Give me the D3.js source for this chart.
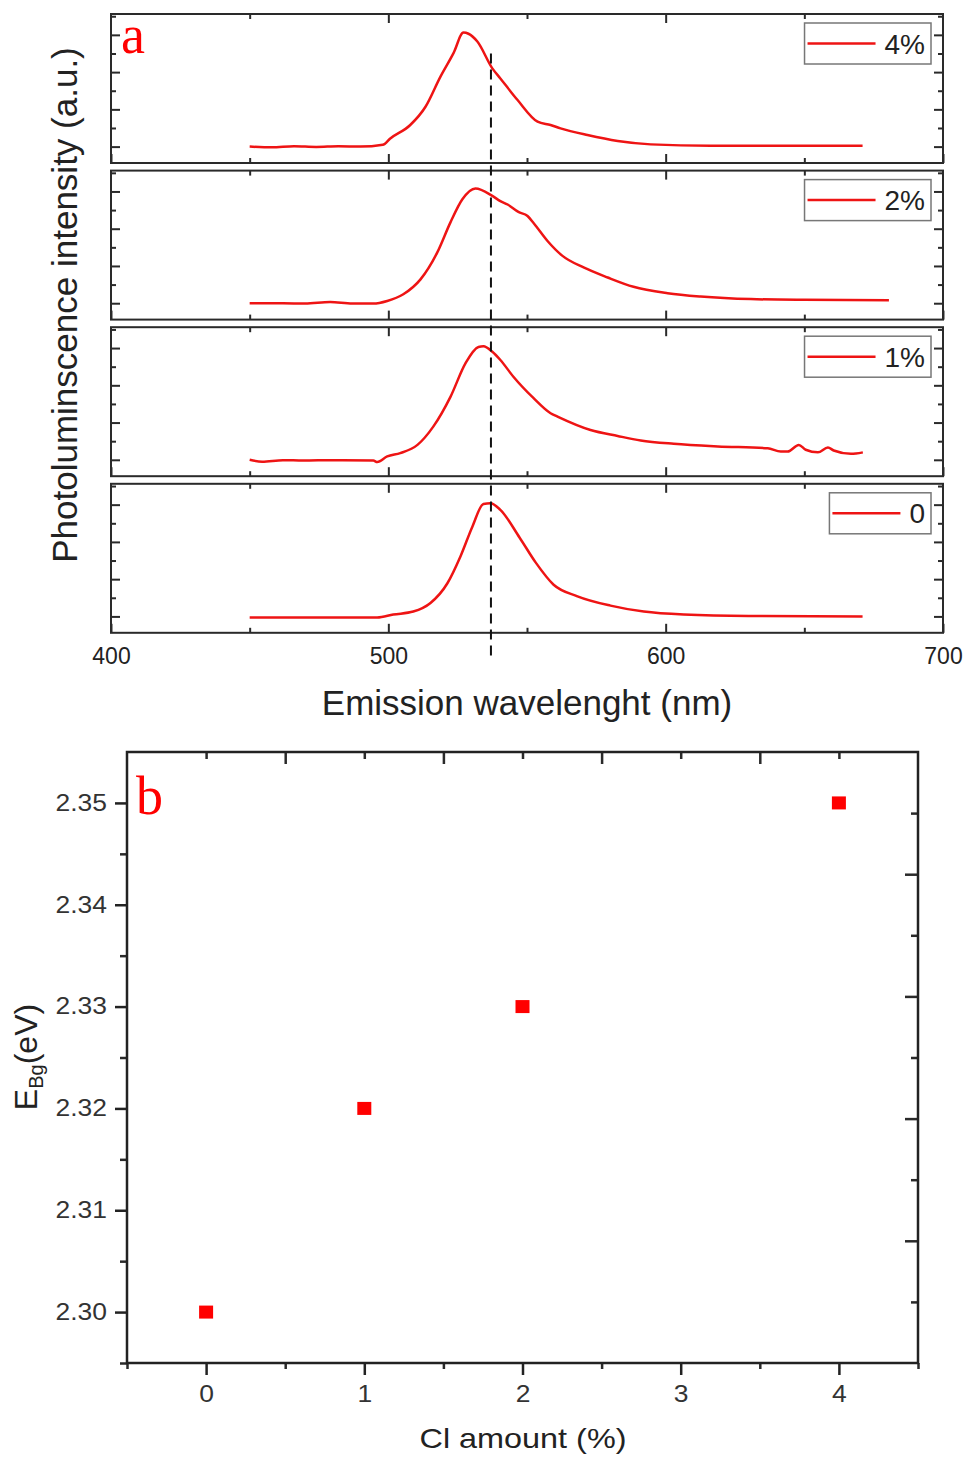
<!DOCTYPE html>
<html>
<head>
<meta charset="utf-8">
<script src="https://cdn.jsdelivr.net/npm/d3@7"></script>
<style>
body { margin: 0; background: #fff; }
svg { display: block; font-family: "Liberation Sans", Arial, sans-serif; }
</style>
</head>
<body>
<svg width="969" height="1458"></svg>
<script>
// panel a: PL spectra (intensity in tick units)
var labels = ["4%", "2%", "1%", "0"];

var wl4 = [450, 458, 466, 474, 482, 490, 498, 500.7, 507.9, 513.4, 518.8, 523.5, 527.1, 528.9, 532.1, 537.5, 540.4, 546.6, 553.8, 558.5, 562.1, 571.8, 582.7, 594.6, 616.2, 671];
var pl4 = [0.0, -0.02, 0.01, -0.01, 0.01, 0.0, 0.05, 0.22, 0.58, 1.07, 1.88, 2.51, 3.06, 3.03, 2.82, 2.10, 1.83, 1.25, 0.67, 0.58, 0.49, 0.31, 0.15, 0.06, 0.02, 0.02];

var wl2 = [450, 462, 470, 479, 487, 494.6, 499.6, 505.4, 511.6, 517.7, 522.4, 526.7, 531.4, 537.5, 540.4, 543, 546.9, 550.2, 552.5, 557.4, 562.8, 570.4, 579.1, 588.4, 600.7, 612.6, 630.7, 649.8, 680.5];
var pl2 = [0, 0.0, -0.01, 0.03, -0.01, -0.01, 0.06, 0.24, 0.64, 1.37, 2.17, 2.79, 3.08, 2.88, 2.74, 2.65, 2.45, 2.34, 2.14, 1.67, 1.27, 0.96, 0.69, 0.44, 0.27, 0.18, 0.11, 0.09, 0.08];

var wl1 = [450, 454.5, 462, 469.3, 480, 494.6, 496, 499.6, 504.3, 510.5, 516.2, 522.4, 527.8, 532.5, 534.3, 537.5, 540.4, 545.1, 552.3, 558.5, 561, 572.9, 582.7, 591, 602.9, 618.8, 636.8, 641.5, 644, 648, 650.5, 654.9, 658.5, 660.6, 666.8, 671.1];
var pl1 = [0, -0.05, -0.01, -0.02, -0.01, -0.02, -0.06, 0.09, 0.18, 0.40, 0.89, 1.69, 2.59, 3.03, 3.05, 2.90, 2.68, 2.23, 1.66, 1.25, 1.16, 0.80, 0.64, 0.52, 0.43, 0.36, 0.31, 0.22, 0.22, 0.40, 0.27, 0.20, 0.33, 0.25, 0.16, 0.20];

var wl0 = [450, 470, 496, 501.8, 509, 515.2, 521.3, 526, 530.3, 534.3, 536.8, 540.4, 547.3, 553.1, 559.6, 568.2, 580.1, 592.1, 606.5, 630, 671];
var pl0 = [-0.03, -0.03, -0.03, 0.05, 0.13, 0.36, 0.89, 1.61, 2.41, 3.02, 3.04, 2.86, 2.12, 1.45, 0.85, 0.54, 0.29, 0.13, 0.05, 0.01, 0.0];

var xTicksA = [400, 500, 600, 700];
var peakWl = 537;

// panel b: band gap vs Cl amount
var clAmount = [0, 1, 2, 4];
var bandGap = [2.30, 2.32, 2.33, 2.35];
var xTicksB = [0, 1, 2, 3, 4];
var yTicksB = [2.30, 2.31, 2.32, 2.33, 2.34, 2.35];

var svg = d3.select("svg");
var red = "#ee1414";

function addTicks(g, axis, vals, size, width) {
    g.call(axis.tickValues(vals).tickSize(size).tickFormat(""));
    g.select(".domain").remove();
    g.selectAll("line").attr("stroke", "#2a2a2a").attr("stroke-width", width || 2);
}

// ---------- panel a ----------
var aLeft = 111, aRight = 943, aTop = 14, aH = 149, aStep = 156.6;
var x = d3.scaleLinear().domain([400, 700]).range([aLeft, aRight]);

var spectra = [
    {name: labels[0], wl: wl4, pl: pl4},
    {name: labels[1], wl: wl2, pl: pl2},
    {name: labels[2], wl: wl1, pl: pl1},
    {name: labels[3], wl: wl0, pl: pl0}
];

var yScales = [];

spectra.forEach(function(s, i) {
    var top = aTop + i * aStep, bottom = top + aH;
    var y = d3.scaleLinear().domain([-0.44, 3.56]).range([bottom, top]);
    yScales.push(y);
    var g = svg.append("g");

    addTicks(g.append("g").attr("transform", "translate(" + aLeft + ",0)"), d3.axisLeft(y), [0, 1, 2, 3], -9);
    addTicks(g.append("g").attr("transform", "translate(" + aLeft + ",0)"), d3.axisLeft(y), [0.5, 1.5, 2.5, 3.5], -5);
    addTicks(g.append("g").attr("transform", "translate(" + aRight + ",0)"), d3.axisRight(y), [0, 1, 2, 3], -9);
    addTicks(g.append("g").attr("transform", "translate(" + aRight + ",0)"), d3.axisRight(y), [0.5, 1.5, 2.5, 3.5], -5);
    addTicks(g.append("g").attr("transform", "translate(0," + top + ")"), d3.axisTop(x), [500, 600], -9);
    addTicks(g.append("g").attr("transform", "translate(0," + top + ")"), d3.axisTop(x), [450, 550, 650], -5);
    addTicks(g.append("g").attr("transform", "translate(0," + bottom + ")"), d3.axisBottom(x), [450, 550, 650], -5);

    var bx = g.append("g").attr("transform", "translate(0," + bottom + ")")
        .call(d3.axisBottom(x).tickValues(xTicksA).tickSize(-9).tickPadding(15)
            .tickFormat(i === 3 ? d3.format("d") : ""));
    bx.select(".domain").remove();
    bx.selectAll("line").attr("stroke", "#2a2a2a").attr("stroke-width", 2);
    bx.selectAll("text").attr("font-size", 23).attr("fill", "#222")
        .attr("font-family", "Liberation Sans, Arial, sans-serif");

    g.append("rect")
        .attr("x", aLeft).attr("y", top)
        .attr("width", aRight - aLeft).attr("height", aH)
        .attr("fill", "none").attr("stroke", "#2a2a2a").attr("stroke-width", 2);

    var line = d3.line()
        .x(function(d) { return x(d[0]); })
        .y(function(d) { return y(d[1]); })
        .curve(d3.curveMonotoneX);

    g.append("path")
        .datum(d3.zip(s.wl, s.pl))
        .attr("d", line)
        .attr("fill", "none")
        .attr("stroke", red)
        .attr("stroke-width", 2.5)
        .attr("stroke-linejoin", "round");

    // legend box, right aligned in the panel
    var leg = g.append("g");
    var txt = leg.append("text").text(s.name)
        .attr("font-size", 28).attr("fill", "#222");
    var tw = txt.node().getComputedTextLength();
    var boxR = aRight - 12, boxW = tw + 6 + 9 + 68 + 3, boxT = top + 9, boxH = 41;
    leg.insert("rect", "text")
        .attr("x", boxR - boxW).attr("y", boxT)
        .attr("width", boxW).attr("height", boxH)
        .attr("fill", "#fff").attr("stroke", "#777").attr("stroke-width", 1.5);
    leg.append("line")
        .attr("x1", boxR - boxW + 3).attr("x2", boxR - boxW + 71)
        .attr("y1", boxT + boxH / 2).attr("y2", boxT + boxH / 2)
        .attr("stroke", red).attr("stroke-width", 2.5);
    txt.attr("x", boxR - 6 - tw).attr("y", boxT + boxH / 2 + 10);
});

// dashed guide at the undoped peak
svg.append("line")
    .attr("x1", x(peakWl)).attr("x2", x(peakWl))
    .attr("y1", yScales[0](2.5))
    .attr("y2", yScales[3].range()[0] + 27)
    .attr("stroke", "#111").attr("stroke-width", 2)
    .attr("stroke-dasharray", "10,6");

svg.append("text").text("a")
    .attr("x", 121).attr("y", 53)
    .attr("font-family", "Liberation Serif, Times New Roman, serif")
    .attr("font-size", 54).attr("fill", "#f00");

svg.append("text").text("Photoluminscence intensity (a.u.)")
    .attr("transform", "translate(77,305) rotate(-90)")
    .attr("text-anchor", "middle")
    .attr("font-size", 35).attr("fill", "#222");

svg.append("text").text("Emission wavelenght (nm)")
    .attr("x", 527).attr("y", 715)
    .attr("text-anchor", "middle")
    .attr("font-size", 35).attr("fill", "#222");

// ---------- panel b ----------
var bLeft = 127, bRight = 918, bTop = 752, bBottom = 1363;
var xb = d3.scaleLinear().domain([-0.5, 4.5]).range([bLeft, bRight]);
var yb = d3.scaleLinear().domain([2.295, 2.355]).range([bBottom, bTop]);
// the right axis of the original has its own, unlabeled spacing
var yr = d3.scaleLinear().domain([0, 5]).range([bBottom, bTop]);

var gb = svg.append("g");

function stretch(sel, k) {
    sel.each(function() {
        var t = d3.select(this);
        var tx = +t.attr("x") || 0, ty = +t.attr("y") || 0;
        t.attr("transform", "translate(" + tx + "," + ty + ") scale(" + k + ",1)")
            .attr("x", 0).attr("y", 0);
    });
}

var ly = gb.append("g").attr("transform", "translate(" + bLeft + ",0)")
    .call(d3.axisLeft(yb).tickValues(yTicksB).tickSize(12).tickPadding(8).tickFormat(d3.format(".2f")));
ly.select(".domain").remove();
ly.selectAll("line").attr("stroke", "#222").attr("stroke-width", 2.5);
ly.selectAll("text").attr("font-size", 23).attr("fill", "#333")
    .attr("font-family", "Liberation Sans, Arial, sans-serif");
stretch(ly.selectAll("text"), 1.15);
addTicks(gb.append("g").attr("transform", "translate(" + bLeft + ",0)"), d3.axisLeft(yb),
    [2.295, 2.305, 2.315, 2.325, 2.335, 2.345], 7, 2.5);

var lx = gb.append("g").attr("transform", "translate(0," + bBottom + ")")
    .call(d3.axisBottom(xb).tickValues(xTicksB).tickSize(12).tickPadding(11).tickFormat(d3.format("d")));
lx.select(".domain").remove();
lx.selectAll("line").attr("stroke", "#222").attr("stroke-width", 2.5);
lx.selectAll("text").attr("font-size", 23).attr("fill", "#333")
    .attr("font-family", "Liberation Sans, Arial, sans-serif");
stretch(lx.selectAll("text"), 1.15);
addTicks(gb.append("g").attr("transform", "translate(0," + bBottom + ")"), d3.axisBottom(xb),
    [-0.5, 0.5, 1.5, 2.5, 3.5, 4.5], 6, 2.5);

addTicks(gb.append("g").attr("transform", "translate(0," + bTop + ")"), d3.axisTop(xb),
    [0.5, 1.5, 2.5, 3.5], -12, 2.5);
addTicks(gb.append("g").attr("transform", "translate(0," + bTop + ")"), d3.axisTop(xb),
    [0, 1, 2, 3, 4], -7, 2.5);
addTicks(gb.append("g").attr("transform", "translate(" + bRight + ",0)"), d3.axisRight(yr),
    [1, 2, 3, 4], -13, 2.5);
addTicks(gb.append("g").attr("transform", "translate(" + bRight + ",0)"), d3.axisRight(yr),
    [0.5, 1.5, 2.5, 3.5, 4.5], -7, 2.5);

gb.append("rect")
    .attr("x", bLeft).attr("y", bTop)
    .attr("width", bRight - bLeft).attr("height", bBottom - bTop)
    .attr("fill", "none").attr("stroke", "#222").attr("stroke-width", 2.5);

gb.selectAll("rect.pt")
    .data(d3.zip(clAmount, bandGap))
    .enter()
    .append("rect")
    .attr("class", "pt")
    .attr("x", function(d) { return xb(d[0]) - 7; })
    .attr("y", function(d) { return yb(d[1]) - 6.5; })
    .attr("width", 14).attr("height", 13)
    .attr("fill", "#ff0000");

svg.append("text").text("b")
    .attr("x", 136).attr("y", 814)
    .attr("font-family", "Liberation Serif, Times New Roman, serif")
    .attr("font-size", 54).attr("fill", "#f00");

var yt = svg.append("text")
    .attr("transform", "translate(37,1057) rotate(-90)")
    .attr("text-anchor", "middle")
    .attr("font-size", 32).attr("fill", "#222");
yt.append("tspan").text("E");
yt.append("tspan").text("Bg").attr("font-size", 20).attr("dy", 6);
yt.append("tspan").text("(eV)").attr("dy", -6);

var xt = svg.append("text").text("Cl amount (%)")
    .attr("x", 523).attr("y", 1448)
    .attr("text-anchor", "middle")
    .attr("font-size", 27).attr("fill", "#222");
stretch(xt, 1.2);
</script>
</body>
</html>
